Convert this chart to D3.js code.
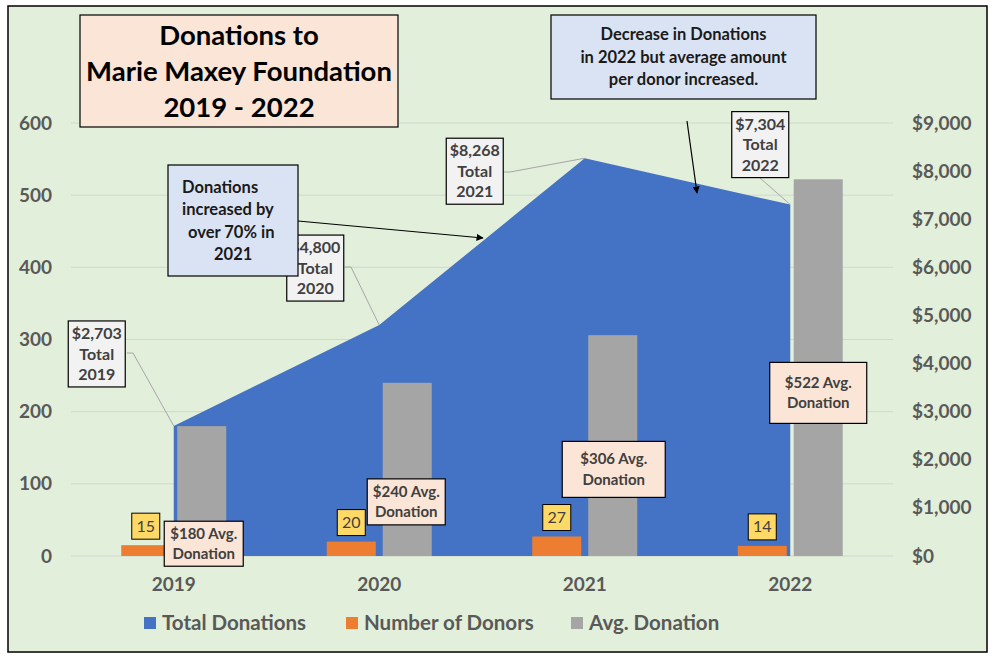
<!DOCTYPE html>
<html>
<head>
<meta charset="utf-8">
<script src="https://cdn.jsdelivr.net/npm/d3@7"></script>
<style>
  body { margin: 0; background: #fff; }
  svg { display: block; font-family: Lato, "Open Sans", sans-serif; }
</style>
</head>
<body>
<div id="chart"></div>
<script>
// data
var years = ["2019", "2020", "2021", "2022"];
var totalDonations = [2703, 4800, 8268, 7304];
var numDonors = [15, 20, 27, 14];
var avgDonation = [180, 240, 306, 522];
var leftTicks = [0, 100, 200, 300, 400, 500, 600];
var rightTicks = [0, 1000, 2000, 3000, 4000, 5000, 6000, 7000, 8000, 9000];
var seriesNames = ["Total Donations", "Number of Donors", "Avg. Donation"];
var titleLines = ["Donations to", "Marie Maxey Foundation", "2019 - 2022"];
var note1Lines = ["Donations", "increased by", "over 70% in", "2021"];
var note2Lines = ["Decrease in Donations", "in 2022 but average amount", "per donor increased."];

var W = 995, H = 657;
var colors = { total: "#4472C4", donors: "#ED7D31", avg: "#A5A5A5" };

var svg = d3.select("#chart").append("svg")
    .attr("width", W).attr("height", H);

// chart background + border
svg.append("rect")
    .attr("x", 8).attr("y", 6).attr("width", 979).attr("height", 646)
    .attr("fill", "#E2EFDA").attr("stroke", "#000").attr("stroke-width", 1.5);

var plot = { left: 71, right: 893, top: 123, bottom: 556 };

var x = d3.scaleBand().domain(years).range([plot.left, plot.right]);
var xInner = d3.scaleBand().domain(["donors", "avg"])
    .range([0, 105]).paddingInner(0.124);
var yLeft = d3.scaleLinear().domain([0, 600]).range([plot.bottom, plot.top]);
var yRight = d3.scaleLinear().domain([0, 9000]).range([plot.bottom, plot.top]);

function cx(i) { return x(years[i]) + x.bandwidth() / 2; }
function barX(i, key) { return cx(i) - 52.5 + xInner(key); }

// gridlines
svg.append("g")
    .selectAll("line")
    .data(leftTicks)
    .enter()
    .append("line")
    .attr("x1", plot.left).attr("x2", plot.right)
    .attr("y1", function (d) { return yLeft(d); })
    .attr("y2", function (d) { return yLeft(d); })
    .attr("stroke", "#D0D8CC").attr("stroke-width", 1);

// total donations area (secondary axis)
var area = d3.area()
    .x(function (d, i) { return cx(i); })
    .y0(yRight(0))
    .y1(function (d) { return yRight(d); });
svg.append("path")
    .datum(totalDonations)
    .attr("d", area)
    .attr("fill", colors.total);

// bars
svg.append("g").selectAll("rect")
    .data(numDonors)
    .enter()
    .append("rect")
    .attr("x", function (d, i) { return barX(i, "donors"); })
    .attr("y", function (d) { return yLeft(d); })
    .attr("width", xInner.bandwidth())
    .attr("height", function (d) { return yLeft(0) - yLeft(d); })
    .attr("fill", colors.donors);

svg.append("g").selectAll("rect")
    .data(avgDonation)
    .enter()
    .append("rect")
    .attr("x", function (d, i) { return barX(i, "avg"); })
    .attr("y", function (d) { return yLeft(d); })
    .attr("width", xInner.bandwidth())
    .attr("height", function (d) { return yLeft(0) - yLeft(d); })
    .attr("fill", colors.avg);

// axes
var axisFont = { size: "19px", color: "#595959" };

var leftAxis = svg.append("g")
    .attr("transform", "translate(" + 52 + ",0)")
    .call(d3.axisLeft(yLeft).tickValues(leftTicks).tickSize(0).tickPadding(0));
var rightAxis = svg.append("g")
    .attr("transform", "translate(" + 912 + ",0)")
    .call(d3.axisRight(yRight).tickValues(rightTicks).tickSize(0).tickPadding(0)
        .tickFormat(function (d) { return "$" + d3.format(",")(d); }));
var bottomAxis = svg.append("g")
    .attr("transform", "translate(0," + 577 + ")")
    .call(d3.axisBottom(x).tickSize(0).tickPadding(0));

[leftAxis, rightAxis, bottomAxis].forEach(function (a) {
    a.select(".domain").remove();
    a.selectAll("text")
        .style("font-family", "Lato, sans-serif")
        .style("font-size", axisFont.size)
        .style("font-weight", "bold")
        .attr("fill", axisFont.color);
});
bottomAxis.selectAll("text").attr("dy", "0.71em");

// helper for boxed multi-line labels
function box(g, cxp, cyp, w, h, fill, lines, opts) {
    opts = opts || {};
    var gg = g.append("g");
    gg.append("rect")
        .attr("x", cxp - w / 2).attr("y", cyp - h / 2)
        .attr("width", w).attr("height", h)
        .attr("fill", fill).attr("stroke", "#000").attr("stroke-width", opts.sw || 1.2);
    var lh = opts.lh || 20;
    var first = cyp - (lines.length - 1) * lh / 2;
    lines.forEach(function (t, k) {
        gg.append("text")
            .attr("x", opts.xs ? opts.xs[k] : cxp)
            .attr("y", first + k * lh)
            .attr("dy", "0.35em")
            .attr("text-anchor", opts.xs ? "start" : "middle")
            .style("font-size", opts.fs || "15px")
            .style("font-weight", opts.weight || "bold")
            .attr("fill", opts.color || "#404040")
            .text(t);
    });
    return gg;
}

var ann = svg.append("g");

// total labels with leader lines
var totalLayout = [
    { dx: -77, dy: -72, lx: 127, ly: 353, kx: 133 },
    { dx: -64, dy: -57, lx: 345, ly: 267, kx: 351 },
    { dx: -110, dy: 13, lx: 504, ly: 172, kx: 510 },
    { dx: -30, dy: -60, lx: 760, ly: 178, kx: 760 }
];
totalDonations.forEach(function (d, i) {
    var px = cx(i), py = yRight(d), L = totalLayout[i];
    ann.append("polyline")
        .attr("points", [[L.lx, L.ly], [L.kx, L.ly], [px, py]].map(function (p) { return p.join(","); }).join(" "))
        .attr("fill", "none").attr("stroke", "#A6A6A6").attr("stroke-width", 1);
    box(ann, px + L.dx, py + L.dy, 57, 66, "#F2F2F2",
        ["$" + d3.format(",")(d), "Total", years[i]], { lh: 20.5, fs: "16px" });
});

// avg donation labels
var avgLayout = [
    { dx: 2, v: 17, w: 79, h: 45 },
    { dx: -1, v: 75, w: 78, h: 46 },
    { dx: 1, v: 120, w: 103, h: 56 },
    { dx: 0, v: 226, w: 97, h: 61 }
];
avgDonation.forEach(function (d, i) {
    var L = avgLayout[i];
    var bx = barX(i, "avg") + xInner.bandwidth() / 2 + L.dx;
    box(ann, bx, yLeft(L.v), L.w, L.h, "#FBE5D6", ["$" + d + " Avg.", "Donation"], { lh: 20.5 });
});

// donor count labels
numDonors.forEach(function (d, i) {
    var bx = barX(i, "donors") + xInner.bandwidth() / 2;
    box(ann, bx, yLeft(d) - 19, 28, 26, "#FFD966", [String(d)],
        { weight: "normal", fs: "16px", color: "#404040", sw: 1 });
});

// arrow marker
svg.append("defs").append("marker")
    .attr("id", "arrow")
    .attr("viewBox", "0 0 10 10")
    .attr("refX", 9).attr("refY", 5)
    .attr("markerWidth", 6).attr("markerHeight", 6)
    .attr("orient", "auto")
    .append("path")
    .attr("d", "M0,0 L10,5 L0,10 z")
    .attr("fill", "#000");

// callout 1
ann.append("line")
    .attr("x1", 298).attr("y1", 221).attr("x2", 483).attr("y2", 238)
    .attr("stroke", "#000").attr("stroke-width", 1.2)
    .attr("marker-end", "url(#arrow)");
box(ann, 233, 220.5, 130, 111, "#DAE3F3", note1Lines,
    { lh: 22.5, fs: "16.5px", xs: [182, 182, 188, 214], color: "#1a1a1a" });

// callout 2
ann.append("line")
    .attr("x1", 687).attr("y1", 121).attr("x2", 697).attr("y2", 193)
    .attr("stroke", "#000").attr("stroke-width", 1.2)
    .attr("marker-end", "url(#arrow)");
box(ann, 683.5, 57, 265, 84, "#DAE3F3", note2Lines, { lh: 22.5, fs: "16.5px", color: "#1a1a1a" });

// title box
box(ann, 239, 71, 318, 112, "#FBE5D6", titleLines,
    { lh: 36, fs: "27.5px", color: "#000" });

// legend
var legendItems = [
    { name: seriesNames[0], color: colors.total, x: 144 },
    { name: seriesNames[1], color: colors.donors, x: 346 },
    { name: seriesNames[2], color: colors.avg, x: 571 }
];
var legend = svg.append("g");
legendItems.forEach(function (d) {
    legend.append("rect")
        .attr("x", d.x).attr("y", 617).attr("width", 12).attr("height", 12)
        .attr("fill", d.color);
    legend.append("text")
        .attr("x", d.x + 18).attr("y", 623)
        .attr("dy", "0.35em")
        .style("font-size", "20.5px")
        .style("font-weight", "bold")
        .attr("fill", "#595959")
        .text(d.name);
});
</script>
</body>
</html>
